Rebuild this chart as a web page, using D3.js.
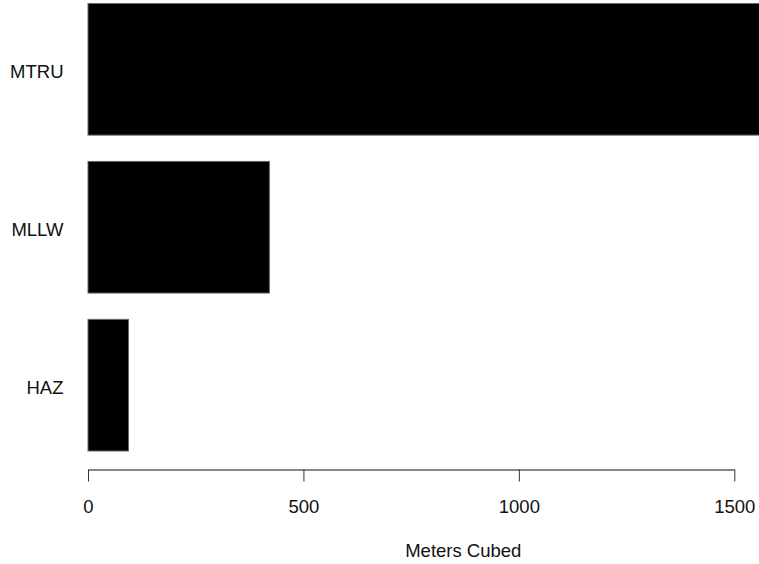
<!DOCTYPE html>
<html>
<head>
<meta charset="utf-8">
<script src="https://cdn.jsdelivr.net/npm/d3@7"></script>
<style>
  body { margin: 0; background: #fff; }
  svg { display: block; font-family: "Liberation Sans", Arial, sans-serif; }
</style>
</head>
<body>
<svg id="chart" width="759" height="564"></svg>
<script>
// waste volumes by type
let categories = ['MTRU', 'MLLW', 'HAZ']
let volumes = [1620, 421, 94]
let xTicks = [0, 500, 1000, 1500]
let xTitle = 'Meters Cubed'

let svg = d3.select('#chart')

let x = d3.scaleLinear()
    .domain([0, 1500])
    .range([88, 734.3])

let y = d3.scaleBand()
    .domain(categories)
    .range([3.5, 451])
    .paddingInner(0.2 / 1.2)
    .paddingOuter(0)

// bars
svg.selectAll('rect.bar')
    .data(categories)
    .enter()
    .append('rect')
    .attr('class', 'bar')
    .attr('x', x(0))
    .attr('y', (d) => y(d))
    .attr('width', (d, i) => x(volumes[i]) - x(0))
    .attr('height', y.bandwidth())
    .attr('fill', '#000')
    .attr('stroke', '#666')
    .attr('stroke-width', 1)

// category labels
svg.selectAll('text.cat')
    .data(categories)
    .enter()
    .append('text')
    .attr('class', 'cat')
    .attr('x', 63.5)
    .attr('y', (d) => y(d) + y.bandwidth() / 2 + 8.5)
    .attr('text-anchor', 'end')
    .attr('font-size', 18.5)
    .attr('fill', '#111')
    .text((d) => d)

// x axis
let axis = svg.append('g')
    .attr('transform', 'translate(0,469.5)')
    .call(d3.axisBottom(x)
        .tickValues(xTicks)
        .tickFormat(d3.format('d'))
        .tickSize(12)
        .tickSizeOuter(0)
        .tickPadding(18))

axis.select('.domain').attr('stroke', '#111')
axis.selectAll('.tick line').attr('stroke', '#333')
axis.selectAll('.tick text')
    .attr('font-size', 18.5)
    .attr('font-family', '"Liberation Sans", Arial, sans-serif')
    .attr('fill', '#111')

svg.append('text')
    .attr('x', 463.3)
    .attr('y', 557)
    .attr('text-anchor', 'middle')
    .attr('font-size', 18.5)
    .attr('fill', '#111')
    .text(xTitle)
</script>
</body>
</html>
